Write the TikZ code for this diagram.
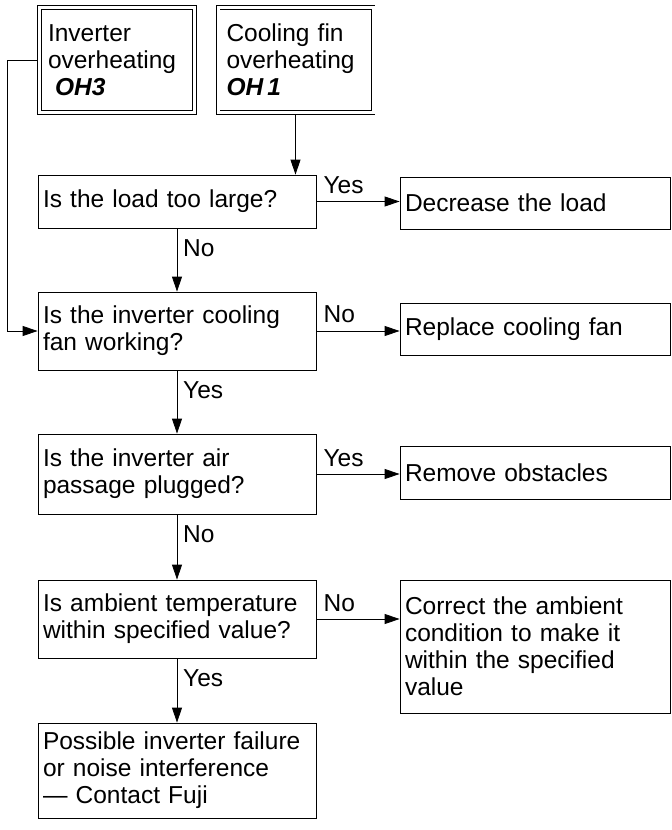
\documentclass[tikz,border=0pt]{standalone}
\usepackage{fontspec}
\setmainfont{Liberation Sans}
\usetikzlibrary{arrows.meta}
\newcommand{\ohcode}[1]{{\bfseries\itshape #1}}

\begin{document}
\begin{tikzpicture}[
  x=1pt, y=-1pt,
  font=\fontsize{24.5}{27}\selectfont,
  every node/.style={inner sep=1pt},
  lcd/.style={draw, double, double distance=3pt, line width=0.8pt,
    minimum height=105pt, text width=138pt, inner xsep=8.5pt, align=left},
  box/.style={draw, line width=0.8pt, minimum height=#1,
    text width=268pt, inner xsep=5pt, align=left},
  remedy/.style={draw, line width=0.8pt, minimum height=#1,
    text width=260pt, inner xsep=5pt, align=left},
  arrow/.style={draw, line width=0.8pt, -{Triangle[length=15pt, width=10pt]}},
  yn/.style={anchor=base west, inner sep=0pt}]

  \useasboundingbox (0,0) rectangle (672,830);

  % fault displays
  \node[lcd] (oh3) at (117,60)   {Inverter\\overheating\\\hspace*{7pt}\ohcode{OH3}};
  \node[lcd] (oh1) at (295.5,60) {Cooling fin\\overheating\\\ohcode{OH\,1}};

  % checks
  \node[box=53pt] (load) at (177,201.5) {Is the load too large?};
  \node[box=78pt] (fan)  at (177,331)   {Is the inverter cooling\\fan working?};
  \node[box=80pt] (air)  at (177,474)   {Is the inverter air\\passage plugged?};
  \node[box=78pt] (amb)  at (177,619)   {Is ambient temperature\\within specified value?};
  \node[box=95pt] (fuji) at (177,770.5) {Possible inverter failure\\or noise interference\\— Contact Fuji};

  % remedies
  \node[remedy=52pt]  (dec)  at (535,203)   {Decrease the load};
  \node[remedy=52pt]  (repl) at (535,329)   {Replace cooling fan};
  \node[remedy=53pt]  (obst) at (535,472.5) {Remove obstacles};
  \node[remedy=133pt] (corr) at (535,646.5) {Correct the ambient\\condition to make it\\within the specified\\value};

  % connectors
  \coordinate (bend) at (7,62);
  \draw[arrow, shorten <=2.3pt] (oh3.west) -- (oh3.west -| bend) |- (fan.west);
  \draw[arrow, shorten <=2.3pt] (oh1.south) -- (oh1.south |- load.north);
  \draw[arrow] (load) -- (fan);
  \draw[arrow] (fan)  -- (air);
  \draw[arrow] (air)  -- (amb);
  \draw[arrow] (amb)  -- (fuji);
  \draw[arrow] (load.east) -- (load.east -| dec.west);
  \draw[arrow] (fan.east)  -- (fan.east -| repl.west);
  \draw[arrow] (air.east)  -- (air.east -| obst.west);
  \draw[arrow] (amb.east)  -- (amb.east -| corr.west);

  % yes / no labels
  \node[yn] (l1) at ([xshift=7pt, yshift=8pt]load.east) {Yes};
  \node[yn] (l2) at ([xshift=7pt, yshift=9pt]fan.east)  {No};
  \node[yn] (l3) at ([xshift=7pt, yshift=8pt]air.east)  {Yes};
  \node[yn] (l4) at ([xshift=7pt, yshift=8pt]amb.east)  {No};
  \node[yn] (d1) at ([xshift=6pt, yshift=-28pt]load.south) {No};
  \node[yn] (d2) at ([xshift=6pt, yshift=-28pt]fan.south)  {Yes};
  \node[yn] (d3) at ([xshift=6pt, yshift=-28pt]air.south)  {No};
  \node[yn] (d4) at ([xshift=6pt, yshift=-28pt]amb.south)  {Yes};
\end{tikzpicture}
\end{document}
